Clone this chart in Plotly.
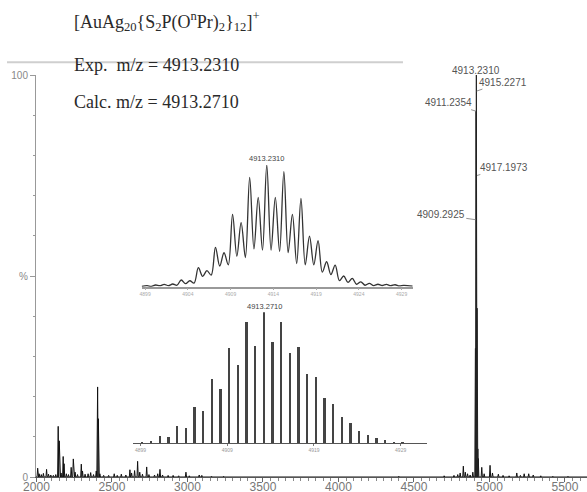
import plotly.graph_objects as go

# ---------------- main spectrum: low-level peaks (m/z, % intensity) ----------------
main_mz = [2008, 2018, 2032, 2046, 2067, 2080, 2095, 2112, 2128, 2144, 2151, 2163, 2177, 2183,
           2198, 2212, 2230, 2244, 2256, 2272, 2297, 2305, 2322, 2342, 2359, 2378, 2396, 2405,
           2410, 2420, 2445, 2478, 2515, 2535, 2562, 2592, 2619, 2630, 2650, 2670, 2684, 2702,
           2730, 2745, 2782, 2803, 2818, 2835, 2872, 2905, 2942, 2990, 3012, 3078, 3095, 3160,
           3240, 3420, 3700, 4020, 4400, 4700, 4765, 4790, 4806, 4827, 4840, 4855, 4872, 4890,
           4926, 4949, 4965, 5004, 5020, 5059, 5090, 5130, 5181, 5205, 5230, 5260, 5290, 5340,
           5420, 5520]
main_int = [2.2, 0.8, 0.6, 0.9, 1.9, 0.7, 0.5, 0.4, 0.6, 12.6, 9.0, 1.0, 5.1, 3.3,
            0.8, 0.6, 2.4, 4.5, 1.2, 0.6, 3.2, 1.5, 0.7, 0.8, 1.1, 0.6, 1.5, 22.4,
            14.5, 0.8, 0.4, 0.4, 0.8, 0.4, 0.7, 0.5, 1.8, 1.0, 1.6, 3.9, 1.2, 0.7,
            2.5, 0.6, 0.5, 0.8, 1.9, 0.5, 0.4, 0.4, 0.3, 1.2, 0.3, 0.5, 0.4, 0.2,
            0.2, 0.15, 0.15, 0.15, 0.2, 0.3, 0.4, 0.6, 1.0, 2.7, 1.2, 0.8, 0.5, 1.2,
            4.6, 2.4, 0.8, 2.9, 1.0, 0.7, 0.4, 0.3, 1.0, 0.4, 0.8, 0.8, 0.5, 0.3,
            0.2, 0.2]

# isotope cluster of the molecular ion in the main spectrum
cluster_mz = [4903.2, 4904.2, 4905.2, 4906.2, 4907.2, 4908.2, 4909.2925, 4910.2, 4911.2354,
              4912.2, 4913.2310, 4914.2, 4915.2271, 4916.2, 4917.1973, 4918.2, 4919.2,
              4920.2, 4921.2, 4922.2, 4923.2]
cluster_int = [5, 5, 15, 13, 32, 28, 64, 53, 91, 73, 100, 73, 96, 60, 75, 42, 38, 20, 18, 9, 7]

# labelled peaks of the main spectrum
label_mz = [4913.2310, 4915.2271, 4911.2354, 4917.1973, 4909.2925]
label_int = [100, 96, 91, 75, 64]
label_text = ["4913.2310", "4915.2271", "4911.2354", "4917.1973", "4909.2925"]

# ---------------- inset 1: experimental isotope pattern ----------------
exp_peak_mz = [4899.23, 4900.23, 4901.23, 4902.23, 4903.23, 4904.23, 4905.23, 4906.23,
               4907.23, 4908.23, 4909.23, 4910.23, 4911.23, 4912.23, 4913.23, 4914.23,
               4915.23, 4916.23, 4917.23, 4918.23, 4919.23, 4920.23, 4921.23, 4922.23,
               4923.23, 4924.23, 4925.23, 4926.23, 4927.23, 4928.23, 4929.23]
exp_peak_int = [0.8, 1.4, 1.9, 2.2, 5.5, 4.9, 15.6, 13.2, 32.3, 27.9, 59.5, 52.6, 89.9, 73.4,
                 100, 73.4, 94.5, 59.5, 72.6, 41.6, 37.8, 20.5, 17.8, 8.8, 6.8, 4.0, 2.7,
                 2.0, 1.9, 1.6, 1.1]
exp_valley_int = [0.3, 0.8, 0.9, 1.2, 2.5, 3.0, 8.5, 9.5, 17, 18, 25, 24, 31, 30, 30, 29, 28,
                  19, 18, 18, 12, 10, 5, 3.5, 2, 1.2, 0.9, 1.0, 0.8, 0.6]
exp_ends_mz = [4898.6, 4930.3]
exp_ends_int = [0.3, 0.5]
exp_tick_vals = [4899, 4904, 4909, 4914, 4919, 4924, 4929]

# ---------------- inset 2: calculated isotope pattern ----------------
calc_mz = [4899.27, 4900.27, 4901.27, 4902.27, 4903.27, 4904.27, 4905.27, 4906.27, 4907.27,
           4908.27, 4909.27, 4910.27, 4911.27, 4912.27, 4913.27, 4914.27, 4915.27, 4916.27,
           4917.27, 4918.27, 4919.27, 4920.27, 4921.27, 4922.27, 4923.27, 4924.27, 4925.27,
           4926.27, 4927.27, 4928.27, 4929.27]
calc_int = [0.8, 1.5, 5.1, 4.6, 12.7, 11.5, 27.5, 24.2, 48.9, 41.2, 72.5, 59.8, 92.1, 74.3,
            100, 77.4, 92.1, 68.7, 73.0, 52.7, 50.1, 34.4, 30.0, 19.6, 15.3, 8.9, 6.4, 3.6,
            2.0, 1.0, 0.5]
calc_tick_vals = [4899, 4909, 4919, 4929]


def stick_profile(mzs, ints, half_width, start=None, end=None):
    xs, ys = [], []
    if start is not None:
        xs.append(start); ys.append(0)
    for m, h in sorted(zip(mzs, ints)):
        xs += [m - half_width, m, m + half_width]
        ys += [0, h, 0]
    if end is not None:
        xs.append(end); ys.append(0)
    return xs, ys


fig = go.Figure()

# main spectrum
mx, my = stick_profile(main_mz, main_int, 4, start=1997, end=5646)
fig.add_trace(go.Scatter(x=mx, y=my, mode="lines", line=dict(color="#111", width=1),
                         hoverinfo="skip"))
cx, cy = stick_profile(cluster_mz, cluster_int, 0.6)
fig.add_trace(go.Scatter(x=cx, y=cy, mode="lines", line=dict(color="#222", width=1),
                         hoverinfo="skip"))

# inset 1 (experimental)
ex, ey = [exp_ends_mz[0]], [exp_ends_int[0]]
for i, (m, h) in enumerate(zip(exp_peak_mz, exp_peak_int)):
    ex.append(m); ey.append(h)
    if i < len(exp_valley_int):
        ex.append((m + exp_peak_mz[i + 1]) / 2); ey.append(exp_valley_int[i])
ex.append(exp_ends_mz[1]); ey.append(exp_ends_int[1])
fig.add_trace(go.Scatter(x=ex, y=ey, mode="lines", xaxis="x2", yaxis="y2",
                         line=dict(color="#333", width=1.3, shape="spline", smoothing=1),
                         hoverinfo="skip"))

# inset 2 (calculated)
fig.add_trace(go.Bar(x=calc_mz, y=calc_int, xaxis="x3", yaxis="y3", width=0.2,
                     marker=dict(color="#444", line=dict(width=0)), hoverinfo="skip"))

annotations = []
# top texts
top_font = dict(family="Liberation Serif", size=18, color="#2a2a2a")
annotations.append(dict(xref="paper", yref="paper", x=0.066, y=1.132, xanchor="left",
                        yanchor="middle", showarrow=False, font=top_font,
                        text="[AuAg<sub>20</sub>{S<sub>2</sub>P(O<sup>n</sup>Pr)<sub>2</sub>}<sub>12</sub>]<sup>+</sup>"))
annotations.append(dict(xref="paper", yref="paper", x=0.066, y=1.0249, xanchor="left",
                        yanchor="middle", showarrow=False, font=top_font,
                        text="Exp.  m/z = 4913.2310"))
annotations.append(dict(xref="paper", yref="paper", x=0.066, y=0.9328, xanchor="left",
                        yanchor="middle", showarrow=False, font=top_font,
                        text="Calc. m/z = 4913.2710"))

# main peak labels
lab_font = dict(family="Liberation Sans", size=10, color="#555")
offsets = [(0, -5), (26, -9), (-28, -8.5), (27, -8), (-35, -5)]
for m, h, t, (ax, ay) in zip(label_mz, label_int, label_text, offsets):
    if ax == 0:
        annotations.append(dict(xref="x", yref="y", x=m, y=h, text=t, showarrow=False,
                                yshift=-ay, font=lab_font))
    else:
        annotations.append(dict(xref="x", yref="y", x=m, y=h, text=t, showarrow=True,
                                ax=ax, ay=ay, arrowhead=0, arrowwidth=0.8,
                                arrowcolor="#777", font=lab_font))

# inset labels
annotations.append(dict(xref="x2", yref="y2", x=exp_peak_mz[exp_peak_int.index(100)], y=100,
                        text="4913.2310", showarrow=False, yshift=7,
                        font=dict(family="Liberation Sans", size=7.5, color="#444")))
annotations.append(dict(xref="x3", yref="y3", x=calc_mz[calc_int.index(100)], y=100,
                        text="4913.2710", showarrow=False, yshift=6,
                        font=dict(family="Liberation Sans", size=7.5, color="#444")))

fig.update_layout(
    width=587, height=492,
    margin=dict(l=36, r=0, t=75, b=15, autoexpand=False),
    plot_bgcolor="white", paper_bgcolor="white",
    showlegend=False, bargap=0,
    annotations=annotations,
    shapes=[dict(type="line", xref="paper", yref="paper", x0=-0.0526, x1=0.666,
                 y0=1.032, y1=1.032, line=dict(color="#cfcfcf", width=2))],
    xaxis=dict(range=[1997, 5646], showline=True, linecolor="#555", linewidth=1,
               automargin=False,
               ticks="outside", ticklen=4, tickcolor="#666", tick0=2000, dtick=500,
               ticklabelstandoff=-5,
               minor=dict(dtick=50, ticks="outside", ticklen=3, tickcolor="#888"),
               showgrid=False, zeroline=False,
               tickfont=dict(family="Liberation Sans", size=12, color="#777")),
    yaxis=dict(range=[0, 100], showline=True, linecolor="#999", linewidth=1,
               automargin=False,
               ticks="outside", ticklen=5, tickcolor="#999",
               tickvals=[0, 50, 100], ticktext=["0", "%", "100"],
               minor=dict(dtick=10, ticks="outside", ticklen=2, tickcolor="#999"),
               showgrid=False, zeroline=False,
               tickfont=dict(family="Liberation Sans", size=10, color="#888")),
    xaxis2=dict(domain=[0.1918, 0.6837], anchor="y2", range=exp_ends_mz, showline=True,
                automargin=False,
                linecolor="#999", linewidth=1.5, ticks="outside", ticklen=2,
                tickcolor="#aaa", tickvals=exp_tick_vals,
                ticktext=[str(v) for v in exp_tick_vals], showgrid=False, zeroline=False,
                tickfont=dict(family="Liberation Sans", size=5, color="#aaa")),
    yaxis2=dict(domain=[0.4734, 0.7761], anchor="x2", range=[0, 100], visible=False),
    xaxis3=dict(domain=[0.1766, 0.709], anchor="y3", range=[4898.16, 4932.0],
                automargin=False,
                showline=True, linecolor="#555", linewidth=1, ticks="outside", ticklen=2,
                tickcolor="#777", tickvals=calc_tick_vals,
                ticktext=[str(v) for v in calc_tick_vals], showgrid=False, zeroline=False,
                tickfont=dict(family="Liberation Sans", size=5, color="#999")),
    yaxis3=dict(domain=[0.0838, 0.4097], anchor="x3", range=[0, 100], visible=False),
)

fig.write_html("out.html", config={"displayModeBar": False},
               post_script="document.body.style.margin='0px';document.body.style.overflow='hidden';")
